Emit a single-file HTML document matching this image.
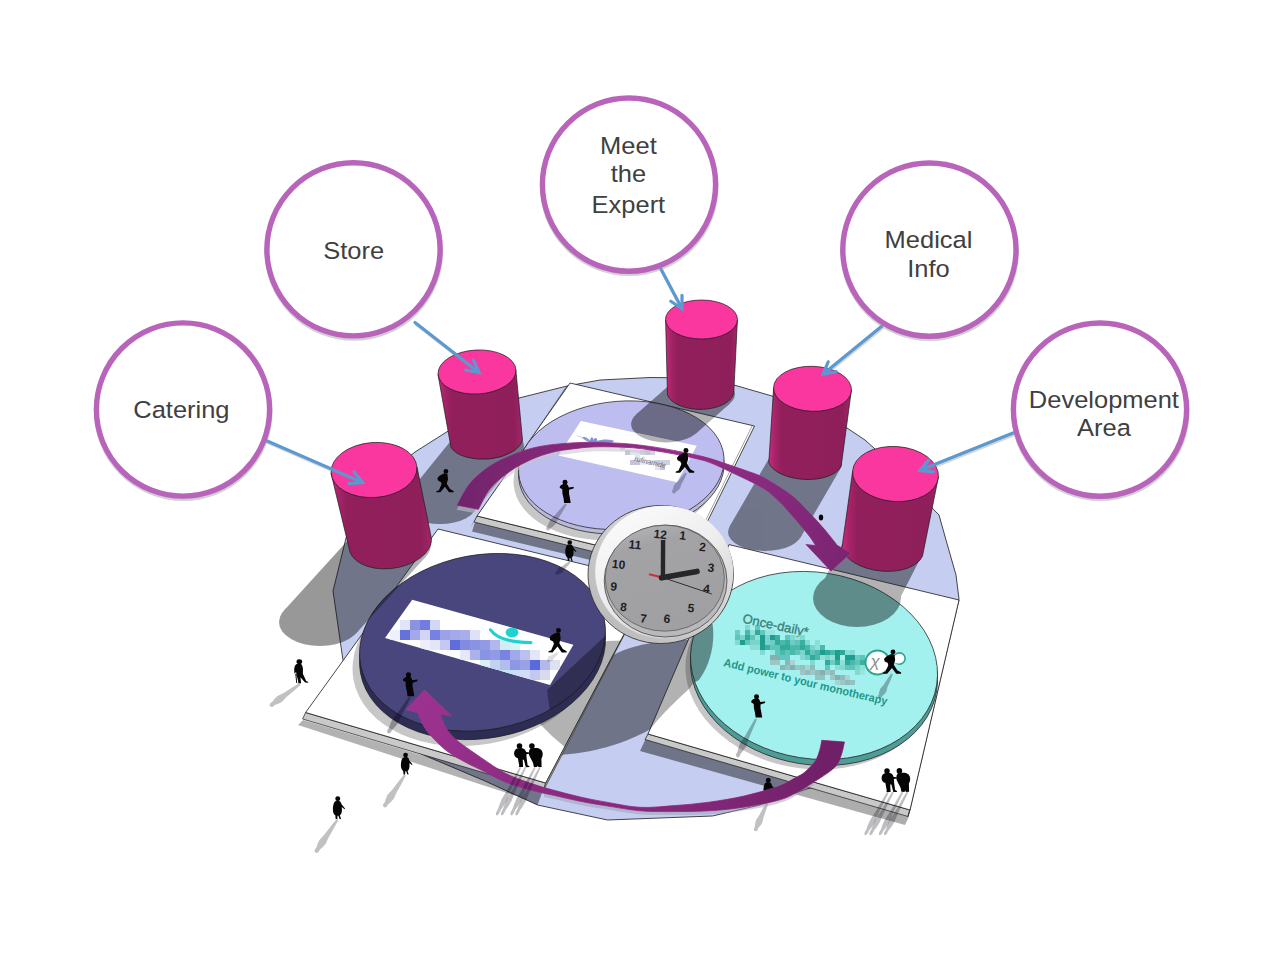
<!DOCTYPE html>
<html lang="en"><head><meta charset="utf-8"><title>Booth layout</title>
<style>
html,body{margin:0;padding:0;background:#fff;}
body{width:1280px;height:960px;overflow:hidden;font-family:"Liberation Sans",Arial,sans-serif;}
svg{display:block;}
svg text{font-family:"Liberation Sans",Arial,sans-serif;}
</style></head><body>
<svg width="1280" height="960" viewBox="0 0 1280 960">
<defs>
<linearGradient id="cylg" x1="0" y1="0" x2="1" y2="0">
<stop offset="0" stop-color="#c82b80"/><stop offset="0.07" stop-color="#a82469"/><stop offset="0.16" stop-color="#911f5c"/><stop offset="0.9" stop-color="#8f1f5b"/><stop offset="1" stop-color="#a3256a"/>
</linearGradient>
<linearGradient id="arrg" x1="0" y1="0" x2="0" y2="1">
<stop offset="0" stop-color="#a0338f"/><stop offset="1" stop-color="#6d1f62"/>
</linearGradient>
<linearGradient id="rimside" x1="1" y1="0" x2="0" y2="1">
<stop offset="0" stop-color="#e4e4e4"/><stop offset="0.5" stop-color="#cfcfcf"/><stop offset="1" stop-color="#b4b4b4"/>
</linearGradient>
<linearGradient id="rimg" x1="0.2" y1="0" x2="0.8" y2="1">
<stop offset="0" stop-color="#fbfbfb"/><stop offset="0.45" stop-color="#eeeeee"/><stop offset="1" stop-color="#cdcdcd"/>
</linearGradient>
<linearGradient id="faceg" x1="0.3" y1="0" x2="0.6" y2="1">
<stop offset="0" stop-color="#b3b3b5"/><stop offset="0.18" stop-color="#a3a3a6"/><stop offset="1" stop-color="#a0a0a3"/>
</linearGradient>
<clipPath id="cFloor"><polygon points="342.5,657.0 333.0,591.0 346.0,538.0 380.0,480.0 415.0,452.0 445.0,433.0 480.0,412.0 519.0,398.0 567.0,386.0 600.0,380.0 650.0,377.5 700.0,378.0 734.0,385.0 772.0,396.0 812.0,410.0 847.0,428.0 865.0,440.0 875.0,449.0 905.0,480.0 939.0,515.0 946.0,540.0 956.0,575.0 959.0,599.0 930.0,700.0 880.0,790.0 810.0,788.0 760.0,805.0 712.5,816.0 607.5,820.0 537.5,805.0 485.0,781.0 420.0,753.5 350.0,700.0"/></clipPath>
<clipPath id="cP1"><polygon points="570.0,383.0 754.5,426.0 685.0,567.0 477.0,516.0"/></clipPath>
<clipPath id="cP2"><polygon points="438.0,529.0 652.0,581.0 545.6,783.0 305.6,712.5"/></clipPath>
<clipPath id="cP3"><polygon points="729.0,544.6 959.0,600.0 910.0,810.0 648.0,734.0"/></clipPath>
<clipPath id="cD1"><ellipse cx="621.3" cy="465.2" rx="103.0" ry="64.0" transform="rotate(-4.7 621.3 465.2)" fill="#000" /></clipPath>
<clipPath id="cD2"><ellipse cx="482.5" cy="642.3" rx="124.0" ry="87.4" transform="rotate(-10.5 482.5 642.3)" fill="#000" /></clipPath>
<clipPath id="cD3"><ellipse cx="814.0" cy="665.5" rx="124.2" ry="93.2" transform="rotate(9.0 814.0 665.5)" fill="#000" /></clipPath>
<filter id="blur1" x="-20%" y="-20%" width="140%" height="140%"><feGaussianBlur stdDeviation="1.2"/></filter>
<filter id="blur2" x="-20%" y="-20%" width="140%" height="140%"><feGaussianBlur stdDeviation="0.7"/></filter>


<g id="walkR"><circle cx="1" cy="-22.4" r="2.55"/><path d="M2.6,-19.6 L3.3,-14 L1.9,-9 L5.5,-3.2 L9.6,-0.9 L9.4,0.4 L4.4,0.4 L0,-5.6 L-4.4,-0.5 L-5,0.4 L-9.7,0.3 L-9.3,-0.9 L-6.6,-1.9 L-3.7,-8.6 L-4.6,-11 L-7.6,-12.5 L-8.3,-15 L-6,-17.6 L-3,-19.2 L-1,-20.3 Z"/></g>
<g id="standW"><circle cx="-2.6" cy="-22.2" r="2.65"/><path d="M-4.6,-20.2 C-7.2,-19.2 -8.6,-17.6 -8.3,-16.2 L-5.6,-14.6 L-5.4,-10 L-4.2,-5 L-3.6,0 L3.4,0 L2.6,-5 L1.6,-10 L1.6,-14 L6.4,-15.5 L6.6,-17.2 L1.4,-16.6 C0.9,-18.6 -0.1,-20.1 -1.6,-20.3 Z"/></g>
<g id="pair"><circle cx="-9" cy="-20.6" r="2.75"/><path d="M-10.5,-18.5 C-13,-18 -14.6,-16 -14.4,-13 C-14.3,-10.5 -12.5,-9 -10.6,-8.5 L-9.2,-0.6 L-9.8,0.4 L-5.4,0.4 L-5.8,-7 L-4.6,-7 L-3.1,-1 L-2.6,0.5 L1.2,0.4 L0.6,-0.8 L-0.9,-1.5 L-1.9,-9 L-2.1,-12.4 L0.8,-12.9 L0.8,-14.3 L-2.4,-14.6 C-3,-17 -4.5,-18.5 -7,-18.7 Z"/><circle cx="3.4" cy="-20.6" r="2.8"/><path d="M2,-18.2 C0.5,-17 0.2,-14.5 0.5,-12 L1.6,-9.4 L4.5,-4 L5.4,0.3 L8.6,0.4 L9,-1 L10,0.4 L13.1,0.3 L12.9,-8 C14.7,-11 14.7,-14.5 12.6,-17 C10.5,-18.9 7,-18.9 5.5,-18.6 Z"/></g>
<g id="standM"><circle cx="0" cy="-22.4" r="2.6"/><path d="M-2,-20.2 C-4.6,-19.6 -5.4,-16 -5,-11 L-4,-9.6 L-3.4,-0.4 L-5,0.3 L-0.4,0.3 L0,-8 L1.4,0.3 L5,0.3 L3.6,-0.6 L4.4,-10 L5.2,-12 C5.4,-17 4.6,-19.8 2,-20.2 Z"/></g>
<g id="coatW"><circle cx="0.3" cy="-22" r="2.7"/><path d="M-1.6,-19.6 C-4,-19 -5,-15 -5,-10 C-5,-6.5 -3.6,-4.6 -2.4,-4 L-2,0 L-0.2,0 L0,-3.6 L1,-3.6 L2.4,0.2 L3.8,0 L2.6,-4 C4.6,-5 5.2,-9 4.6,-13 L7.6,-10.6 L8.2,-11.4 L4.4,-16 C4,-18.4 3,-19.6 1.4,-19.7 Z"/></g>
<g id="caneM"><circle cx="-0.6" cy="-22.2" r="2.6"/><path d="M-2.6,-20 C-5,-19 -5.6,-15 -5,-10 L-3.2,-9 L-1.4,-0.4 L-2.4,0.2 L1,0.3 L0.4,-6 L4.6,-0.6 L7.6,-0.2 L7.2,-1.2 L5.6,-2 L2.6,-9.6 C3,-15 2.6,-18.6 0.6,-20 Z M-4.4,-11 L-3.4,-11 L-2.6,0 L-3.4,0 Z"/></g>
</defs>
<g><g opacity="0.40" fill="#000000"><ellipse cx="390.0" cy="545.0" rx="41.0" ry="24.0"/><ellipse cx="320.0" cy="622.0" rx="41.0" ry="24.0"/><polygon points="426.2,556.3 353.8,533.7 283.8,610.7 356.2,633.3"/><ellipse cx="487.0" cy="446.0" rx="37.0" ry="20.0"/><ellipse cx="440.0" cy="504.0" rx="37.0" ry="20.0"/><polygon points="520.9,454.0 453.1,438.0 406.1,496.0 473.9,512.0"/><ellipse cx="700.0" cy="394.0" rx="35.0" ry="18.5"/><ellipse cx="666.0" cy="424.0" rx="35.0" ry="18.5"/><polygon points="730.0,403.5 670.0,384.5 636.0,414.5 696.0,433.5"/><ellipse cx="805.0" cy="463.0" rx="37.0" ry="19.0"/><ellipse cx="765.0" cy="532.0" rx="37.0" ry="19.0"/><polygon points="840.5,468.4 769.5,457.6 729.5,526.6 800.5,537.4"/><ellipse cx="882.0" cy="550.0" rx="41.0" ry="23.0"/><ellipse cx="857.0" cy="599.0" rx="41.0" ry="23.0"/><polygon points="921.4,556.3 842.6,543.7 817.6,592.7 896.4,605.3"/><ellipse cx="857" cy="598" rx="44" ry="29"/></g></g>
<polygon points="303.0,720.0 543.0,791.0 538.0,803.0 298.0,725.0" fill="#000000" opacity="0.30"/>
<polygon points="646.0,740.0 909.0,816.5 905.0,825.0 641.0,751.0" fill="#000000" opacity="0.32"/>
<polygon points="342.5,657.0 333.0,591.0 346.0,538.0 380.0,480.0 415.0,452.0 445.0,433.0 480.0,412.0 519.0,398.0 567.0,386.0 600.0,380.0 650.0,377.5 700.0,378.0 734.0,385.0 772.0,396.0 812.0,410.0 847.0,428.0 865.0,440.0 875.0,449.0 905.0,480.0 939.0,515.0 946.0,540.0 956.0,575.0 959.0,599.0 930.0,700.0 880.0,790.0 810.0,788.0 760.0,805.0 712.5,816.0 607.5,820.0 537.5,805.0 485.0,781.0 420.0,753.5 350.0,700.0" fill="#c5cef1" stroke="#1b1b1b" stroke-width="0.8" stroke-linejoin="round"/>
<g clip-path="url(#cFloor)"><g opacity="0.43" fill="#000000"><ellipse cx="390.0" cy="545.0" rx="41.0" ry="24.0"/><ellipse cx="320.0" cy="622.0" rx="41.0" ry="24.0"/><polygon points="426.2,556.3 353.8,533.7 283.8,610.7 356.2,633.3"/><ellipse cx="487.0" cy="446.0" rx="37.0" ry="20.0"/><ellipse cx="440.0" cy="504.0" rx="37.0" ry="20.0"/><polygon points="520.9,454.0 453.1,438.0 406.1,496.0 473.9,512.0"/><ellipse cx="700.0" cy="394.0" rx="35.0" ry="18.5"/><ellipse cx="666.0" cy="424.0" rx="35.0" ry="18.5"/><polygon points="730.0,403.5 670.0,384.5 636.0,414.5 696.0,433.5"/><ellipse cx="805.0" cy="463.0" rx="37.0" ry="19.0"/><ellipse cx="765.0" cy="532.0" rx="37.0" ry="19.0"/><polygon points="840.5,468.4 769.5,457.6 729.5,526.6 800.5,537.4"/><ellipse cx="882.0" cy="550.0" rx="41.0" ry="23.0"/><ellipse cx="857.0" cy="599.0" rx="41.0" ry="23.0"/><polygon points="921.4,556.3 842.6,543.7 817.6,592.7 896.4,605.3"/><ellipse cx="857" cy="598" rx="44" ry="29"/><polygon points="477.0,516.0 685.0,567.0 680.0,581.5 472.0,531.5"/><polygon points="570.0,383.0 477.0,516.0 470.0,528.0 565.0,388.0"/><polygon points="305.6,712.5 545.6,783.0 537.6,805.0 297.6,734.5"/><polygon points="648.0,734.0 910.0,810.0 904.0,825.0 640.0,751.0"/><path d="M610,657 C625,648 645,642 680,640 L725,640 L700,700 L647,731 C628,741 600,752 564,754.5 L540,765 Z"/></g></g>
<polygon points="477.0,516.0 685.0,567.0 683.0,574.0 474.0,522.0" fill="#c9c9c9" stroke="#1b1b1b" stroke-width="0.7" stroke-linejoin="round"/><polygon points="570.0,383.0 754.5,426.0 685.0,567.0 477.0,516.0" fill="#ffffff" stroke="#1b1b1b" stroke-width="0.8" stroke-linejoin="round"/>
<line x1="752.3" y1="425.5" x2="683" y2="566.5" stroke="#666" stroke-width="0.6"/>
<g clip-path="url(#cP1)"><g opacity="0.30" fill="#000000"><ellipse cx="390.0" cy="545.0" rx="41.0" ry="24.0"/><ellipse cx="320.0" cy="622.0" rx="41.0" ry="24.0"/><polygon points="426.2,556.3 353.8,533.7 283.8,610.7 356.2,633.3"/><ellipse cx="487.0" cy="446.0" rx="37.0" ry="20.0"/><ellipse cx="440.0" cy="504.0" rx="37.0" ry="20.0"/><polygon points="520.9,454.0 453.1,438.0 406.1,496.0 473.9,512.0"/><ellipse cx="700.0" cy="394.0" rx="35.0" ry="18.5"/><ellipse cx="666.0" cy="424.0" rx="35.0" ry="18.5"/><polygon points="730.0,403.5 670.0,384.5 636.0,414.5 696.0,433.5"/><ellipse cx="805.0" cy="463.0" rx="37.0" ry="19.0"/><ellipse cx="765.0" cy="532.0" rx="37.0" ry="19.0"/><polygon points="840.5,468.4 769.5,457.6 729.5,526.6 800.5,537.4"/><ellipse cx="882.0" cy="550.0" rx="41.0" ry="23.0"/><ellipse cx="857.0" cy="599.0" rx="41.0" ry="23.0"/><polygon points="921.4,556.3 842.6,543.7 817.6,592.7 896.4,605.3"/><ellipse cx="857" cy="598" rx="44" ry="29"/></g></g>
<g clip-path="url(#cP1)"><g opacity="0.22" fill="#000000"><ellipse cx="616.3" cy="476.2" rx="103.0" ry="64.0" transform="rotate(-4.7 616.3 476.2)"/></g></g>
<ellipse cx="621.3" cy="469.7" rx="103.0" ry="64.0" transform="rotate(-4.7 621.3 469.7)" fill="#b9b9da" stroke="#1b1b1b" stroke-width="0.7"/><ellipse cx="621.3" cy="465.2" rx="103.0" ry="64.0" transform="rotate(-4.7 621.3 465.2)" fill="#bdbdef" stroke="#1b1b1b" stroke-width="0.7"/>
<g clip-path="url(#cD1)"><g opacity="0.43" fill="#000000"><ellipse cx="390.0" cy="545.0" rx="41.0" ry="24.0"/><ellipse cx="320.0" cy="622.0" rx="41.0" ry="24.0"/><polygon points="426.2,556.3 353.8,533.7 283.8,610.7 356.2,633.3"/><ellipse cx="487.0" cy="446.0" rx="37.0" ry="20.0"/><ellipse cx="440.0" cy="504.0" rx="37.0" ry="20.0"/><polygon points="520.9,454.0 453.1,438.0 406.1,496.0 473.9,512.0"/><ellipse cx="700.0" cy="394.0" rx="35.0" ry="18.5"/><ellipse cx="666.0" cy="424.0" rx="35.0" ry="18.5"/><polygon points="730.0,403.5 670.0,384.5 636.0,414.5 696.0,433.5"/><ellipse cx="805.0" cy="463.0" rx="37.0" ry="19.0"/><ellipse cx="765.0" cy="532.0" rx="37.0" ry="19.0"/><polygon points="840.5,468.4 769.5,457.6 729.5,526.6 800.5,537.4"/><ellipse cx="882.0" cy="550.0" rx="41.0" ry="23.0"/><ellipse cx="857.0" cy="599.0" rx="41.0" ry="23.0"/><polygon points="921.4,556.3 842.6,543.7 817.6,592.7 896.4,605.3"/><ellipse cx="857" cy="598" rx="44" ry="29"/></g></g>
<polygon points="305.6,712.5 545.6,783.0 543.6,790.5 302.6,719.0" fill="#c9c9c9" stroke="#1b1b1b" stroke-width="0.7" stroke-linejoin="round"/><polygon points="652.0,581.0 545.6,783.0 543.6,790.5 650.5,584.2" fill="#9a9a9a" stroke="#1b1b1b" stroke-width="0.5"/><polygon points="438.0,529.0 652.0,581.0 545.6,783.0 305.6,712.5" fill="#ffffff" stroke="#1b1b1b" stroke-width="0.8" stroke-linejoin="round"/>
<g clip-path="url(#cP2)"><g opacity="0.30" fill="#000000"><ellipse cx="390.0" cy="545.0" rx="41.0" ry="24.0"/><ellipse cx="320.0" cy="622.0" rx="41.0" ry="24.0"/><polygon points="426.2,556.3 353.8,533.7 283.8,610.7 356.2,633.3"/><ellipse cx="487.0" cy="446.0" rx="37.0" ry="20.0"/><ellipse cx="440.0" cy="504.0" rx="37.0" ry="20.0"/><polygon points="520.9,454.0 453.1,438.0 406.1,496.0 473.9,512.0"/><ellipse cx="700.0" cy="394.0" rx="35.0" ry="18.5"/><ellipse cx="666.0" cy="424.0" rx="35.0" ry="18.5"/><polygon points="730.0,403.5 670.0,384.5 636.0,414.5 696.0,433.5"/><ellipse cx="805.0" cy="463.0" rx="37.0" ry="19.0"/><ellipse cx="765.0" cy="532.0" rx="37.0" ry="19.0"/><polygon points="840.5,468.4 769.5,457.6 729.5,526.6 800.5,537.4"/><ellipse cx="882.0" cy="550.0" rx="41.0" ry="23.0"/><ellipse cx="857.0" cy="599.0" rx="41.0" ry="23.0"/><polygon points="921.4,556.3 842.6,543.7 817.6,592.7 896.4,605.3"/><ellipse cx="857" cy="598" rx="44" ry="29"/><polygon points="607,641 585,662 560,690 535,715 540,724 552,736 567,749 640,640"/></g></g>
<g clip-path="url(#cP2)"><g opacity="0.22" fill="#000000"><ellipse cx="475.5" cy="657.3" rx="124.0" ry="87.4" transform="rotate(-10.5 475.5 657.3)"/></g></g>
<ellipse cx="482.5" cy="650.8" rx="124.0" ry="87.4" transform="rotate(-10.5 482.5 650.8)" fill="#2d2c55" stroke="#1b1b1b" stroke-width="0.7"/><ellipse cx="482.5" cy="642.3" rx="124.0" ry="87.4" transform="rotate(-10.5 482.5 642.3)" fill="#48467c" stroke="#1b1b1b" stroke-width="0.7"/>
<g clip-path="url(#cD2)"><g opacity="0.33" fill="#000000"><ellipse cx="390.0" cy="545.0" rx="41.0" ry="24.0"/><ellipse cx="320.0" cy="622.0" rx="41.0" ry="24.0"/><polygon points="426.2,556.3 353.8,533.7 283.8,610.7 356.2,633.3"/><ellipse cx="487.0" cy="446.0" rx="37.0" ry="20.0"/><ellipse cx="440.0" cy="504.0" rx="37.0" ry="20.0"/><polygon points="520.9,454.0 453.1,438.0 406.1,496.0 473.9,512.0"/><ellipse cx="700.0" cy="394.0" rx="35.0" ry="18.5"/><ellipse cx="666.0" cy="424.0" rx="35.0" ry="18.5"/><polygon points="730.0,403.5 670.0,384.5 636.0,414.5 696.0,433.5"/><ellipse cx="805.0" cy="463.0" rx="37.0" ry="19.0"/><ellipse cx="765.0" cy="532.0" rx="37.0" ry="19.0"/><polygon points="840.5,468.4 769.5,457.6 729.5,526.6 800.5,537.4"/><ellipse cx="882.0" cy="550.0" rx="41.0" ry="23.0"/><ellipse cx="857.0" cy="599.0" rx="41.0" ry="23.0"/><polygon points="921.4,556.3 842.6,543.7 817.6,592.7 896.4,605.3"/><ellipse cx="857" cy="598" rx="44" ry="29"/><polygon points="603,638 547,690 550,712 543,740 640,745 640,600"/></g></g>
<polygon points="648.0,734.0 910.0,810.0 908.0,816.5 645.0,739.5" fill="#c9c9c9" stroke="#1b1b1b" stroke-width="0.7" stroke-linejoin="round"/><polygon points="959.0,600.0 910.0,810.0 908.0,816.5 957.5,602.8" fill="#9a9a9a" stroke="#1b1b1b" stroke-width="0.5"/><polygon points="729.0,544.6 959.0,600.0 910.0,810.0 648.0,734.0" fill="#ffffff" stroke="#1b1b1b" stroke-width="0.8" stroke-linejoin="round"/>
<g clip-path="url(#cP3)"><g opacity="0.30" fill="#000000"><ellipse cx="390.0" cy="545.0" rx="41.0" ry="24.0"/><ellipse cx="320.0" cy="622.0" rx="41.0" ry="24.0"/><polygon points="426.2,556.3 353.8,533.7 283.8,610.7 356.2,633.3"/><ellipse cx="487.0" cy="446.0" rx="37.0" ry="20.0"/><ellipse cx="440.0" cy="504.0" rx="37.0" ry="20.0"/><polygon points="520.9,454.0 453.1,438.0 406.1,496.0 473.9,512.0"/><ellipse cx="700.0" cy="394.0" rx="35.0" ry="18.5"/><ellipse cx="666.0" cy="424.0" rx="35.0" ry="18.5"/><polygon points="730.0,403.5 670.0,384.5 636.0,414.5 696.0,433.5"/><ellipse cx="805.0" cy="463.0" rx="37.0" ry="19.0"/><ellipse cx="765.0" cy="532.0" rx="37.0" ry="19.0"/><polygon points="840.5,468.4 769.5,457.6 729.5,526.6 800.5,537.4"/><ellipse cx="882.0" cy="550.0" rx="41.0" ry="23.0"/><ellipse cx="857.0" cy="599.0" rx="41.0" ry="23.0"/><polygon points="921.4,556.3 842.6,543.7 817.6,592.7 896.4,605.3"/><ellipse cx="857" cy="598" rx="44" ry="29"/><path d="M645,736 C655,722 668,708 690,688 L702,670 L740,600 L700,555 L630,740 Z"/></g></g>
<g clip-path="url(#cP3)"><g opacity="0.22" fill="#000000"><ellipse cx="809.0" cy="675.5" rx="124.2" ry="93.2" transform="rotate(9.0 809.0 675.5)"/></g></g>
<ellipse cx="814.0" cy="671.5" rx="124.2" ry="93.2" transform="rotate(9.0 814.0 671.5)" fill="#4f9c97" stroke="#1b1b1b" stroke-width="0.7"/><ellipse cx="814.0" cy="665.5" rx="124.2" ry="93.2" transform="rotate(9.0 814.0 665.5)" fill="#a3f1ee" stroke="#1b1b1b" stroke-width="0.7"/>
<g clip-path="url(#cD3)"><g opacity="0.42" fill="#000000"><ellipse cx="390.0" cy="545.0" rx="41.0" ry="24.0"/><ellipse cx="320.0" cy="622.0" rx="41.0" ry="24.0"/><polygon points="426.2,556.3 353.8,533.7 283.8,610.7 356.2,633.3"/><ellipse cx="487.0" cy="446.0" rx="37.0" ry="20.0"/><ellipse cx="440.0" cy="504.0" rx="37.0" ry="20.0"/><polygon points="520.9,454.0 453.1,438.0 406.1,496.0 473.9,512.0"/><ellipse cx="700.0" cy="394.0" rx="35.0" ry="18.5"/><ellipse cx="666.0" cy="424.0" rx="35.0" ry="18.5"/><polygon points="730.0,403.5 670.0,384.5 636.0,414.5 696.0,433.5"/><ellipse cx="805.0" cy="463.0" rx="37.0" ry="19.0"/><ellipse cx="765.0" cy="532.0" rx="37.0" ry="19.0"/><polygon points="840.5,468.4 769.5,457.6 729.5,526.6 800.5,537.4"/><ellipse cx="882.0" cy="550.0" rx="41.0" ry="23.0"/><ellipse cx="857.0" cy="599.0" rx="41.0" ry="23.0"/><polygon points="921.4,556.3 842.6,543.7 817.6,592.7 896.4,605.3"/><ellipse cx="857" cy="598" rx="44" ry="29"/><path d="M686,640 L700,628 L712.5,623.5 C715,640 712,662 699,680 L690,685 L670,660 Z"/></g></g>
<polygon points="580.8,421 696.8,445.7 677,482.3 558.3,455.5" fill="#ffffff"/><path d="M582,437.5 C586,436 588,439 590,440.5 C591,436 593,436.5 593.5,440 C595,437 597,437.5 597.5,441 C602,439 608,439 613.5,440.5 C614.5,442 612,443 608,442.8 C602,443.5 596,443.4 591,442.6 C588,442 585,440.5 582,437.5 Z" fill="#7d90d8"/><path d="M577,435.5 L590,441" stroke="#a9b6e6" stroke-width="0.6"/><rect x="620" y="445" width="5" height="5" fill="#d2d3e2"/><rect x="625" y="450" width="5" height="5" fill="#c3c5da"/><rect x="630" y="450" width="5" height="5" fill="#e4e4ee"/><rect x="630" y="460" width="5" height="5" fill="#c3c5da"/><rect x="635" y="450" width="5" height="5" fill="#e4e4ee"/><rect x="635" y="455" width="5" height="5" fill="#e4e4ee"/><rect x="635" y="460" width="5" height="5" fill="#c3c5da"/><rect x="640" y="450" width="5" height="5" fill="#d2d3e2"/><rect x="640" y="460" width="5" height="5" fill="#ececf3"/><rect x="645" y="450" width="5" height="5" fill="#c3c5da"/><rect x="645" y="460" width="5" height="5" fill="#ececf3"/><rect x="650" y="450" width="5" height="5" fill="#d2d3e2"/><rect x="650" y="460" width="5" height="5" fill="#e4e4ee"/><rect x="655" y="460" width="5" height="5" fill="#cfd0e0"/><rect x="655" y="465" width="5" height="5" fill="#e4e4ee"/><rect x="660" y="460" width="5" height="5" fill="#cfd0e0"/><rect x="660" y="465" width="5" height="5" fill="#c3c5da"/><rect x="665" y="460" width="5" height="5" fill="#cfd0e0"/><text x="634" y="461" font-size="7.5" font-style="italic" fill="#6e6e78" transform="rotate(13 634 461)" textLength="32" lengthAdjust="spacingAndGlyphs">rufinamide</text><polygon points="412.2,599.7 573.4,644.7 550,685 385,638" fill="#ffffff"/><clipPath id="cBan2"><polygon points="412.2,599.7 573.4,644.7 550,685 385,638"/></clipPath><g clip-path="url(#cBan2)"><rect x="400" y="620" width="10" height="10" fill="#e2e4f7"/><rect x="410" y="620" width="10" height="10" fill="#8a92e2"/><rect x="420" y="620" width="10" height="10" fill="#727be0"/><rect x="430" y="620" width="10" height="10" fill="#d3d6f5"/><rect x="390" y="630" width="10" height="10" fill="#eef0fb"/><rect x="400" y="630" width="10" height="10" fill="#6672dc"/><rect x="410" y="630" width="10" height="10" fill="#a2a8e8"/><rect x="420" y="630" width="10" height="10" fill="#d2d5f5"/><rect x="430" y="630" width="10" height="10" fill="#7681e0"/><rect x="440" y="630" width="10" height="10" fill="#9ba2e7"/><rect x="450" y="630" width="10" height="10" fill="#a3a9e9"/><rect x="460" y="630" width="10" height="10" fill="#a9aeea"/><rect x="470" y="630" width="10" height="10" fill="#dfe1f7"/><rect x="420" y="640" width="10" height="10" fill="#eceefa"/><rect x="430" y="640" width="10" height="10" fill="#e3e5f8"/><rect x="440" y="640" width="10" height="10" fill="#c5c9f1"/><rect x="450" y="640" width="10" height="10" fill="#5f6ddb"/><rect x="460" y="640" width="10" height="10" fill="#828be2"/><rect x="470" y="640" width="10" height="10" fill="#8a93e3"/><rect x="480" y="640" width="10" height="10" fill="#929ae5"/><rect x="490" y="640" width="10" height="10" fill="#b3b8ec"/><rect x="500" y="640" width="10" height="10" fill="#cfeef3"/><rect x="510" y="640" width="10" height="10" fill="#d8f3f5"/><rect x="460" y="650" width="10" height="10" fill="#e6e8f9"/><rect x="470" y="650" width="10" height="10" fill="#aab1eb"/><rect x="480" y="650" width="10" height="10" fill="#8992e3"/><rect x="490" y="650" width="10" height="10" fill="#929ae5"/><rect x="500" y="650" width="10" height="10" fill="#7a83e1"/><rect x="510" y="650" width="10" height="10" fill="#a2a9e9"/><rect x="520" y="650" width="10" height="10" fill="#bac1ef"/><rect x="530" y="650" width="10" height="10" fill="#e3e6f8"/><rect x="480" y="660" width="10" height="10" fill="#d9f1f6"/><rect x="490" y="660" width="10" height="10" fill="#c2d2f1"/><rect x="500" y="660" width="10" height="10" fill="#b2bdee"/><rect x="510" y="660" width="10" height="10" fill="#8d97e4"/><rect x="520" y="660" width="10" height="10" fill="#99a1e6"/><rect x="530" y="660" width="10" height="10" fill="#5a69dc"/><rect x="540" y="660" width="10" height="10" fill="#b2b9e9"/><rect x="550" y="660" width="10" height="10" fill="#dfe1f2"/><rect x="500" y="670" width="10" height="10" fill="#bfe9f0"/><rect x="510" y="670" width="10" height="10" fill="#c9ddf4"/><rect x="520" y="670" width="10" height="10" fill="#d3dcf5"/><rect x="530" y="670" width="10" height="10" fill="#c2c9f0"/><rect x="540" y="670" width="10" height="10" fill="#d8dbf0"/></g><ellipse cx="512" cy="632.5" rx="6.4" ry="4.8" fill="#1fd2ce"/><path d="M490.5,629.8 C496,637.5 510,642.5 531,642.6" fill="none"  stroke="#1fd2ce" stroke-width="3.1" stroke-linecap="round"/><text x="742" y="622.6" font-size="13" fill="#3a827c" stroke="#3a827c" stroke-width="0.35" transform="rotate(12 742 622.6)" textLength="67" lengthAdjust="spacingAndGlyphs">Once-daily*</text><text x="723" y="666" font-size="11.4" font-weight="bold" fill="#24968a" transform="rotate(13.5 723 666)" textLength="168" lengthAdjust="spacingAndGlyphs">Add power to your monotherapy</text><rect x="735" y="630" width="5" height="5" fill="#6acabf" opacity="0.95"/><rect x="735" y="635" width="5" height="5" fill="#5cc2b6" opacity="0.95"/><rect x="735" y="640" width="5" height="5" fill="#6acabf" opacity="0.60"/><rect x="740" y="635" width="5" height="5" fill="#78d2c8" opacity="0.95"/><rect x="740" y="640" width="5" height="5" fill="#17998a" opacity="0.95"/><rect x="745" y="625" width="5" height="5" fill="#6acabf" opacity="0.60"/><rect x="745" y="630" width="5" height="5" fill="#46b4a7" opacity="0.95"/><rect x="745" y="635" width="5" height="5" fill="#2aa596" opacity="0.95"/><rect x="745" y="640" width="5" height="5" fill="#5cc2b6" opacity="0.95"/><rect x="750" y="630" width="5" height="5" fill="#8edfd6" opacity="0.95"/><rect x="750" y="635" width="5" height="5" fill="#5cc2b6" opacity="0.95"/><rect x="750" y="640" width="5" height="5" fill="#78d2c8" opacity="0.95"/><rect x="750" y="645" width="5" height="5" fill="#78d2c8" opacity="0.60"/><rect x="755" y="625" width="5" height="5" fill="#35ab9d" opacity="0.60"/><rect x="755" y="630" width="5" height="5" fill="#2aa596" opacity="0.95"/><rect x="755" y="635" width="5" height="5" fill="#8edfd6" opacity="0.95"/><rect x="755" y="640" width="5" height="5" fill="#78d2c8" opacity="0.95"/><rect x="755" y="645" width="5" height="5" fill="#78d2c8" opacity="0.60"/><rect x="760" y="630" width="5" height="5" fill="#35ab9d" opacity="0.60"/><rect x="760" y="635" width="5" height="5" fill="#17998a" opacity="0.95"/><rect x="760" y="640" width="5" height="5" fill="#17998a" opacity="0.95"/><rect x="760" y="645" width="5" height="5" fill="#17998a" opacity="0.95"/><rect x="760" y="650" width="5" height="5" fill="#6acabf" opacity="0.60"/><rect x="765" y="630" width="5" height="5" fill="#8edfd6" opacity="0.60"/><rect x="765" y="635" width="5" height="5" fill="#78d2c8" opacity="0.95"/><rect x="765" y="640" width="5" height="5" fill="#78d2c8" opacity="0.95"/><rect x="765" y="645" width="5" height="5" fill="#35ab9d" opacity="0.95"/><rect x="770" y="630" width="5" height="5" fill="#8edfd6" opacity="0.60"/><rect x="770" y="635" width="5" height="5" fill="#17998a" opacity="0.95"/><rect x="770" y="640" width="5" height="5" fill="#6acabf" opacity="0.95"/><rect x="770" y="645" width="5" height="5" fill="#5cc2b6" opacity="0.95"/><rect x="770" y="650" width="5" height="5" fill="#8edfd6" opacity="0.60"/><rect x="775" y="635" width="5" height="5" fill="#35ab9d" opacity="0.95"/><rect x="775" y="640" width="5" height="5" fill="#2aa596" opacity="0.95"/><rect x="775" y="645" width="5" height="5" fill="#5cc2b6" opacity="0.95"/><rect x="775" y="650" width="5" height="5" fill="#35ab9d" opacity="0.60"/><rect x="780" y="640" width="5" height="5" fill="#46b4a7" opacity="0.95"/><rect x="780" y="645" width="5" height="5" fill="#2aa596" opacity="0.95"/><rect x="780" y="650" width="5" height="5" fill="#46b4a7" opacity="0.95"/><rect x="780" y="655" width="5" height="5" fill="#35ab9d" opacity="0.60"/><rect x="785" y="635" width="5" height="5" fill="#35ab9d" opacity="0.60"/><rect x="785" y="640" width="5" height="5" fill="#35ab9d" opacity="0.95"/><rect x="785" y="645" width="5" height="5" fill="#2aa596" opacity="0.95"/><rect x="785" y="650" width="5" height="5" fill="#5cc2b6" opacity="0.95"/><rect x="785" y="655" width="5" height="5" fill="#35ab9d" opacity="0.60"/><rect x="790" y="635" width="5" height="5" fill="#6acabf" opacity="0.60"/><rect x="790" y="640" width="5" height="5" fill="#6acabf" opacity="0.95"/><rect x="790" y="645" width="5" height="5" fill="#46b4a7" opacity="0.95"/><rect x="790" y="650" width="5" height="5" fill="#46b4a7" opacity="0.95"/><rect x="795" y="635" width="5" height="5" fill="#8edfd6" opacity="0.60"/><rect x="795" y="640" width="5" height="5" fill="#5cc2b6" opacity="0.95"/><rect x="795" y="645" width="5" height="5" fill="#46b4a7" opacity="0.95"/><rect x="795" y="650" width="5" height="5" fill="#5cc2b6" opacity="0.95"/><rect x="800" y="635" width="5" height="5" fill="#6acabf" opacity="0.60"/><rect x="800" y="640" width="5" height="5" fill="#35ab9d" opacity="0.95"/><rect x="800" y="645" width="5" height="5" fill="#2aa596" opacity="0.95"/><rect x="800" y="650" width="5" height="5" fill="#78d2c8" opacity="0.95"/><rect x="800" y="655" width="5" height="5" fill="#6acabf" opacity="0.60"/><rect x="805" y="640" width="5" height="5" fill="#6acabf" opacity="0.60"/><rect x="805" y="645" width="5" height="5" fill="#46b4a7" opacity="0.95"/><rect x="805" y="650" width="5" height="5" fill="#2aa596" opacity="0.95"/><rect x="805" y="655" width="5" height="5" fill="#6acabf" opacity="0.95"/><rect x="810" y="645" width="5" height="5" fill="#78d2c8" opacity="0.95"/><rect x="810" y="650" width="5" height="5" fill="#5cc2b6" opacity="0.95"/><rect x="810" y="655" width="5" height="5" fill="#2aa596" opacity="0.95"/><rect x="810" y="660" width="5" height="5" fill="#6acabf" opacity="0.60"/><rect x="815" y="640" width="5" height="5" fill="#78d2c8" opacity="0.60"/><rect x="815" y="645" width="5" height="5" fill="#8edfd6" opacity="0.95"/><rect x="815" y="650" width="5" height="5" fill="#46b4a7" opacity="0.95"/><rect x="815" y="655" width="5" height="5" fill="#46b4a7" opacity="0.95"/><rect x="820" y="645" width="5" height="5" fill="#46b4a7" opacity="0.95"/><rect x="820" y="650" width="5" height="5" fill="#17998a" opacity="0.95"/><rect x="820" y="655" width="5" height="5" fill="#8edfd6" opacity="0.95"/><rect x="825" y="650" width="5" height="5" fill="#2aa596" opacity="0.95"/><rect x="825" y="655" width="5" height="5" fill="#78d2c8" opacity="0.95"/><rect x="825" y="660" width="5" height="5" fill="#2aa596" opacity="0.95"/><rect x="825" y="665" width="5" height="5" fill="#35ab9d" opacity="0.60"/><rect x="830" y="650" width="5" height="5" fill="#46b4a7" opacity="0.95"/><rect x="830" y="655" width="5" height="5" fill="#8edfd6" opacity="0.95"/><rect x="830" y="660" width="5" height="5" fill="#6acabf" opacity="0.95"/><rect x="835" y="650" width="5" height="5" fill="#17998a" opacity="0.95"/><rect x="835" y="655" width="5" height="5" fill="#17998a" opacity="0.95"/><rect x="835" y="660" width="5" height="5" fill="#35ab9d" opacity="0.95"/><rect x="835" y="665" width="5" height="5" fill="#78d2c8" opacity="0.60"/><rect x="840" y="650" width="5" height="5" fill="#2aa596" opacity="0.95"/><rect x="840" y="660" width="5" height="5" fill="#8edfd6" opacity="0.95"/><rect x="840" y="665" width="5" height="5" fill="#6acabf" opacity="0.60"/><rect x="845" y="650" width="5" height="5" fill="#78d2c8" opacity="0.60"/><rect x="845" y="655" width="5" height="5" fill="#17998a" opacity="0.95"/><rect x="845" y="660" width="5" height="5" fill="#2aa596" opacity="0.95"/><rect x="845" y="665" width="5" height="5" fill="#5cc2b6" opacity="0.95"/><rect x="850" y="650" width="5" height="5" fill="#6acabf" opacity="0.60"/><rect x="850" y="655" width="5" height="5" fill="#17998a" opacity="0.95"/><rect x="850" y="660" width="5" height="5" fill="#46b4a7" opacity="0.95"/><rect x="850" y="665" width="5" height="5" fill="#5cc2b6" opacity="0.95"/><rect x="855" y="655" width="5" height="5" fill="#6acabf" opacity="0.95"/><rect x="855" y="660" width="5" height="5" fill="#5cc2b6" opacity="0.95"/><rect x="855" y="665" width="5" height="5" fill="#78d2c8" opacity="0.95"/><rect x="855" y="670" width="5" height="5" fill="#6acabf" opacity="0.60"/><rect x="860" y="655" width="5" height="5" fill="#5cc2b6" opacity="0.95"/><rect x="860" y="660" width="5" height="5" fill="#35ab9d" opacity="0.95"/><rect x="860" y="665" width="5" height="5" fill="#8edfd6" opacity="0.95"/><rect x="860" y="670" width="5" height="5" fill="#8edfd6" opacity="0.60"/><rect x="770" y="655" width="5" height="5" fill="#7fa5a6" opacity="0.85"/><rect x="770" y="660" width="5" height="5" fill="#9bc0c0" opacity="0.85"/><rect x="775" y="655" width="5" height="5" fill="#7fa5a6" opacity="0.85"/><rect x="775" y="660" width="5" height="5" fill="#9bc0c0" opacity="0.85"/><rect x="780" y="665" width="5" height="5" fill="#86abac" opacity="0.85"/><rect x="785" y="660" width="5" height="5" fill="#86abac" opacity="0.85"/><rect x="785" y="665" width="5" height="5" fill="#93b9b9" opacity="0.85"/><rect x="790" y="660" width="5" height="5" fill="#a8cfce" opacity="0.85"/><rect x="790" y="665" width="5" height="5" fill="#7fa5a6" opacity="0.85"/><rect x="795" y="665" width="5" height="5" fill="#9bc0c0" opacity="0.85"/><rect x="800" y="665" width="5" height="5" fill="#93b9b9" opacity="0.85"/><rect x="800" y="670" width="5" height="5" fill="#9bc0c0" opacity="0.85"/><rect x="805" y="665" width="5" height="5" fill="#a8cfce" opacity="0.85"/><rect x="805" y="670" width="5" height="5" fill="#8fb3b3" opacity="0.85"/><rect x="810" y="665" width="5" height="5" fill="#8fb3b3" opacity="0.85"/><rect x="810" y="670" width="5" height="5" fill="#9bc0c0" opacity="0.85"/><rect x="815" y="670" width="5" height="5" fill="#8fb3b3" opacity="0.85"/><rect x="815" y="675" width="5" height="5" fill="#93b9b9" opacity="0.85"/><rect x="820" y="670" width="5" height="5" fill="#7fa5a6" opacity="0.85"/><rect x="820" y="675" width="5" height="5" fill="#93b9b9" opacity="0.85"/><rect x="825" y="670" width="5" height="5" fill="#9bc0c0" opacity="0.85"/><rect x="830" y="670" width="5" height="5" fill="#8fb3b3" opacity="0.85"/><rect x="830" y="675" width="5" height="5" fill="#9bc0c0" opacity="0.85"/><rect x="835" y="675" width="5" height="5" fill="#7fa5a6" opacity="0.85"/><rect x="835" y="680" width="5" height="5" fill="#a8cfce" opacity="0.85"/><rect x="840" y="675" width="5" height="5" fill="#8fb3b3" opacity="0.85"/><rect x="840" y="680" width="5" height="5" fill="#9bc0c0" opacity="0.85"/><rect x="845" y="675" width="5" height="5" fill="#a8cfce" opacity="0.85"/><rect x="845" y="680" width="5" height="5" fill="#8fb3b3" opacity="0.85"/><rect x="850" y="680" width="5" height="5" fill="#93b9b9" opacity="0.85"/><circle cx="899.5" cy="658.5" r="5.6" fill="#ffffff" stroke="#2aa393" stroke-width="1.6"/><circle cx="877.5" cy="662.5" r="12" fill="#ffffff" stroke="#2aa393" stroke-width="1.9"/><circle cx="898" cy="659" r="4.6" fill="#ffffff"/><text x="870.5" y="667" font-size="17" font-style="italic" font-family="Liberation Serif, serif" fill="#8c8c8c">χ</text>
<clipPath id="cBan1"><polygon points="580.8,421 696.8,445.7 677,482.3 558.3,455.5"/></clipPath><g clip-path="url(#cBan1)"><g opacity="0.30" fill="#000"><ellipse cx="390.0" cy="545.0" rx="41.0" ry="24.0"/><ellipse cx="320.0" cy="622.0" rx="41.0" ry="24.0"/><polygon points="426.2,556.3 353.8,533.7 283.8,610.7 356.2,633.3"/><ellipse cx="487.0" cy="446.0" rx="37.0" ry="20.0"/><ellipse cx="440.0" cy="504.0" rx="37.0" ry="20.0"/><polygon points="520.9,454.0 453.1,438.0 406.1,496.0 473.9,512.0"/><ellipse cx="700.0" cy="394.0" rx="35.0" ry="18.5"/><ellipse cx="666.0" cy="424.0" rx="35.0" ry="18.5"/><polygon points="730.0,403.5 670.0,384.5 636.0,414.5 696.0,433.5"/><ellipse cx="805.0" cy="463.0" rx="37.0" ry="19.0"/><ellipse cx="765.0" cy="532.0" rx="37.0" ry="19.0"/><polygon points="840.5,468.4 769.5,457.6 729.5,526.6 800.5,537.4"/><ellipse cx="882.0" cy="550.0" rx="41.0" ry="23.0"/><ellipse cx="857.0" cy="599.0" rx="41.0" ry="23.0"/><polygon points="921.4,556.3 842.6,543.7 817.6,592.7 896.4,605.3"/><ellipse cx="857" cy="598" rx="44" ry="29"/></g></g>
<path d="M331.0,473.0 L350.0,552.0 A41.0,25.0 -8.0 0 0 430.6,534.4 L417.0,467.0 Z" fill="url(#cylg)" stroke="#1b1b1b" stroke-width="0.7" stroke-linejoin="round"/><ellipse cx="374.0" cy="470.0" rx="43.0" ry="27.5" transform="rotate(-4.0 374.0 470.0)" fill="#fa369f" stroke="#1b1b1b" stroke-width="0.7"/><path d="M438.0,374.5 L451.0,447.5 A37.0,20.0 -4.0 0 0 522.5,440.0 L515.8,369.5 Z" fill="url(#cylg)" stroke="#1b1b1b" stroke-width="0.7" stroke-linejoin="round"/><ellipse cx="477.0" cy="372.0" rx="39.0" ry="22.0" transform="rotate(-3.0 477.0 372.0)" fill="#fa369f" stroke="#1b1b1b" stroke-width="0.7"/><path d="M665.6,320.0 L667.5,395.0 A33.5,18.0 0.0 0 0 733.8,392.0 L737.4,320.0 Z" fill="url(#cylg)" stroke="#1b1b1b" stroke-width="0.7" stroke-linejoin="round"/><ellipse cx="701.5" cy="319.5" rx="36.0" ry="19.5" transform="rotate(0.0 701.5 319.5)" fill="#fa369f" stroke="#1b1b1b" stroke-width="0.7"/><path d="M773.6,388.0 L768.8,462.5 A37.0,19.0 3.0 0 0 841.2,466.0 L851.4,390.0 Z" fill="url(#cylg)" stroke="#1b1b1b" stroke-width="0.7" stroke-linejoin="round"/><ellipse cx="812.5" cy="388.8" rx="39.0" ry="22.5" transform="rotate(2.0 812.5 388.8)" fill="#fa369f" stroke="#1b1b1b" stroke-width="0.7"/><path d="M852.6,471.5 L842.0,547.5 A41.0,23.0 6.0 0 0 922.5,556.0 L938.4,477.0 Z" fill="url(#cylg)" stroke="#1b1b1b" stroke-width="0.7" stroke-linejoin="round"/><ellipse cx="895.5" cy="474.0" rx="43.0" ry="27.5" transform="rotate(4.0 895.5 474.0)" fill="#fa369f" stroke="#1b1b1b" stroke-width="0.7"/>
<path d="M767.1,800.6 L763.1,807.8 L759.4,815.1 L756.0,820.0 L755.1,823.9 L754.8,826.7 L753.7,829.0 L754.2,830.7 L755.8,831.3 L757.3,830.6 L758.3,828.1 L760.1,826.1 L762.3,822.8 L763.6,816.9 L766.4,809.2 L768.9,801.4 Z" fill="#000010" opacity="0.24" filter="url(#blur2)"/><use href="#coatW" transform="translate(768.0 800.0) scale(0.900 0.900)" fill="#050505"/><ellipse cx="821" cy="517.5" rx="2.2" ry="3" fill="#050505"/>
<defs>
<clipPath id="cTopBand"><rect x="450" y="430" width="200" height="100"/></clipPath>
<clipPath id="cBotBand"><rect x="545" y="770" width="270" height="60"/></clipPath>
<linearGradient id="arrT" gradientUnits="userSpaceOnUse" x1="456" y1="500" x2="850" y2="560">
<stop offset="0" stop-color="#70236a"/><stop offset="0.15" stop-color="#7f2775"/><stop offset="0.5" stop-color="#932f89"/><stop offset="0.8" stop-color="#86297c"/><stop offset="1" stop-color="#7a2571"/>
</linearGradient>
<linearGradient id="arrB" gradientUnits="userSpaceOnUse" x1="420" y1="700" x2="845" y2="760">
<stop offset="0" stop-color="#9c3290"/><stop offset="0.3" stop-color="#8a2b7f"/><stop offset="0.7" stop-color="#822778"/><stop offset="1" stop-color="#6e1f65"/>
</linearGradient>
</defs>
<path d="M457.1,505.2 C459.3,501.5 464.7,489.5 470.3,482.9 C475.9,476.3 483.8,470.2 490.6,465.6 C497.4,461.0 504.1,458.4 510.9,455.5 C517.7,452.6 524.5,450.2 531.2,448.4 C538.0,446.6 544.8,445.6 551.6,444.7 C558.4,443.8 565.1,443.3 571.9,442.9 C578.7,442.5 585.4,442.3 592.2,442.3 C599.0,442.3 605.7,442.6 612.5,442.9 C619.3,443.2 626.0,443.6 632.8,444.3 C639.6,445.0 646.3,445.9 653.1,446.9 C659.9,447.9 666.6,449.1 673.4,450.4 C680.2,451.7 687.6,453.1 693.8,454.5 C699.9,455.9 703.8,456.7 710.0,458.5 C716.2,460.3 725.2,463.5 731.0,465.5 C736.8,467.5 739.8,468.4 745.0,470.3 C750.2,472.2 757.0,474.2 762.5,476.9 C768.0,479.6 772.8,482.9 778.0,486.2 C783.2,489.6 788.5,492.8 793.8,497.2 C799.0,501.6 804.2,507.3 809.4,512.8 C814.6,518.3 820.3,524.5 825.0,530.0 C829.7,535.5 835.4,543.0 837.5,545.6 L850.5,553.0 L831.0,571.0 L806.0,544.5 L815.6,545.6 C814.6,544.0 813.0,540.9 809.4,536.2 C805.8,531.6 799.0,523.5 793.8,517.5 C788.5,511.5 783.2,505.2 778.0,500.3 C772.8,495.4 770.3,492.5 762.5,487.8 C754.7,483.1 740.0,476.4 731.2,472.2 C722.5,468.0 716.2,465.0 710.0,462.6 C703.8,460.2 699.9,459.6 693.8,458.1 C687.6,456.6 680.2,455.1 673.4,453.8 C666.6,452.5 659.9,451.4 653.1,450.4 C646.3,449.4 639.6,448.3 632.8,447.8 C626.0,447.2 619.3,447.0 612.5,446.9 C605.7,446.8 599.0,446.5 592.2,446.9 C585.4,447.2 578.7,448.1 571.9,449.0 C565.1,449.9 558.4,450.6 551.6,452.4 C544.8,454.1 538.0,456.4 531.2,459.5 C524.5,462.6 517.7,465.9 510.9,470.7 C504.1,475.4 496.0,481.6 490.6,488.0 C485.2,494.4 480.4,505.8 478.4,509.3 Z" fill="#c4c4cc" opacity="0.55" transform="translate(-0.5 4.5)" clip-path="url(#cTopBand)"/><path d="M457.1,505.2 C459.3,501.5 464.7,489.5 470.3,482.9 C475.9,476.3 483.8,470.2 490.6,465.6 C497.4,461.0 504.1,458.4 510.9,455.5 C517.7,452.6 524.5,450.2 531.2,448.4 C538.0,446.6 544.8,445.6 551.6,444.7 C558.4,443.8 565.1,443.3 571.9,442.9 C578.7,442.5 585.4,442.3 592.2,442.3 C599.0,442.3 605.7,442.6 612.5,442.9 C619.3,443.2 626.0,443.6 632.8,444.3 C639.6,445.0 646.3,445.9 653.1,446.9 C659.9,447.9 666.6,449.1 673.4,450.4 C680.2,451.7 687.6,453.1 693.8,454.5 C699.9,455.9 703.8,456.7 710.0,458.5 C716.2,460.3 725.2,463.5 731.0,465.5 C736.8,467.5 739.8,468.4 745.0,470.3 C750.2,472.2 757.0,474.2 762.5,476.9 C768.0,479.6 772.8,482.9 778.0,486.2 C783.2,489.6 788.5,492.8 793.8,497.2 C799.0,501.6 804.2,507.3 809.4,512.8 C814.6,518.3 820.3,524.5 825.0,530.0 C829.7,535.5 835.4,543.0 837.5,545.6 L850.5,553.0 L831.0,571.0 L806.0,544.5 L815.6,545.6 C814.6,544.0 813.0,540.9 809.4,536.2 C805.8,531.6 799.0,523.5 793.8,517.5 C788.5,511.5 783.2,505.2 778.0,500.3 C772.8,495.4 770.3,492.5 762.5,487.8 C754.7,483.1 740.0,476.4 731.2,472.2 C722.5,468.0 716.2,465.0 710.0,462.6 C703.8,460.2 699.9,459.6 693.8,458.1 C687.6,456.6 680.2,455.1 673.4,453.8 C666.6,452.5 659.9,451.4 653.1,450.4 C646.3,449.4 639.6,448.3 632.8,447.8 C626.0,447.2 619.3,447.0 612.5,446.9 C605.7,446.8 599.0,446.5 592.2,446.9 C585.4,447.2 578.7,448.1 571.9,449.0 C565.1,449.9 558.4,450.6 551.6,452.4 C544.8,454.1 538.0,456.4 531.2,459.5 C524.5,462.6 517.7,465.9 510.9,470.7 C504.1,475.4 496.0,481.6 490.6,488.0 C485.2,494.4 480.4,505.8 478.4,509.3 Z" fill="url(#arrT)" stroke="#a3358f" stroke-width="0.9" stroke-linejoin="round" paint-order="stroke"/><path d="M821.8,740.3 C821.4,742.0 820.7,747.2 819.6,750.6 C818.5,754.0 817.7,757.3 815.3,760.9 C812.9,764.5 808.4,769.1 805.0,772.0 C801.6,774.9 799.3,775.6 794.7,778.1 C790.1,780.6 786.1,783.7 777.5,786.7 C768.9,789.7 754.6,793.6 743.1,796.2 C731.6,798.8 720.2,800.6 708.8,802.2 C697.3,803.8 685.9,804.8 674.4,805.6 C662.9,806.5 651.6,807.9 640.0,807.3 C628.4,806.7 615.0,803.6 605.0,801.9 C595.0,800.2 588.3,798.8 580.0,796.9 C571.7,795.0 563.3,792.9 555.0,790.6 C546.7,788.3 538.3,786.0 530.0,783.1 C521.7,780.2 513.3,777.5 505.0,773.1 C496.7,768.7 488.3,762.6 480.0,756.9 C471.7,751.2 460.9,744.0 455.0,738.8 C449.1,733.5 447.2,729.7 444.7,725.6 C442.2,721.5 440.8,715.9 440.0,714.0 L451.6,716.0 L424.6,690.0 L406.0,709.7 L417.5,712.5 C419.1,715.6 422.3,724.8 427.0,731.0 C431.7,737.2 439.3,744.8 445.6,750.0 C451.9,755.2 459.3,758.8 465.0,762.0 C470.7,765.2 473.3,766.1 480.0,769.4 C486.7,772.7 496.7,778.5 505.0,781.9 C513.3,785.3 521.7,787.7 530.0,790.0 C538.3,792.3 546.7,793.7 555.0,795.6 C563.3,797.5 571.7,799.6 580.0,801.2 C588.3,802.9 595.0,804.0 605.0,805.6 C615.0,807.2 628.4,809.8 640.0,810.8 C651.6,811.8 662.9,811.6 674.4,811.6 C685.9,811.6 697.3,811.5 708.8,810.8 C720.2,810.1 731.6,809.0 743.1,807.3 C754.6,805.6 768.9,802.8 777.5,800.5 C786.1,798.2 789.0,796.5 794.7,793.6 C800.4,790.7 805.3,787.6 811.9,783.3 C818.5,779.0 829.4,772.4 834.2,767.8 C839.1,763.2 839.3,760.1 841.0,755.8 C842.7,751.5 843.9,744.3 844.5,742.0 Z" fill="#9a9aa8" opacity="0.45" transform="translate(-1 3.5)" clip-path="url(#cBotBand)"/><path d="M821.8,740.3 C821.4,742.0 820.7,747.2 819.6,750.6 C818.5,754.0 817.7,757.3 815.3,760.9 C812.9,764.5 808.4,769.1 805.0,772.0 C801.6,774.9 799.3,775.6 794.7,778.1 C790.1,780.6 786.1,783.7 777.5,786.7 C768.9,789.7 754.6,793.6 743.1,796.2 C731.6,798.8 720.2,800.6 708.8,802.2 C697.3,803.8 685.9,804.8 674.4,805.6 C662.9,806.5 651.6,807.9 640.0,807.3 C628.4,806.7 615.0,803.6 605.0,801.9 C595.0,800.2 588.3,798.8 580.0,796.9 C571.7,795.0 563.3,792.9 555.0,790.6 C546.7,788.3 538.3,786.0 530.0,783.1 C521.7,780.2 513.3,777.5 505.0,773.1 C496.7,768.7 488.3,762.6 480.0,756.9 C471.7,751.2 460.9,744.0 455.0,738.8 C449.1,733.5 447.2,729.7 444.7,725.6 C442.2,721.5 440.8,715.9 440.0,714.0 L451.6,716.0 L424.6,690.0 L406.0,709.7 L417.5,712.5 C419.1,715.6 422.3,724.8 427.0,731.0 C431.7,737.2 439.3,744.8 445.6,750.0 C451.9,755.2 459.3,758.8 465.0,762.0 C470.7,765.2 473.3,766.1 480.0,769.4 C486.7,772.7 496.7,778.5 505.0,781.9 C513.3,785.3 521.7,787.7 530.0,790.0 C538.3,792.3 546.7,793.7 555.0,795.6 C563.3,797.5 571.7,799.6 580.0,801.2 C588.3,802.9 595.0,804.0 605.0,805.6 C615.0,807.2 628.4,809.8 640.0,810.8 C651.6,811.8 662.9,811.6 674.4,811.6 C685.9,811.6 697.3,811.5 708.8,810.8 C720.2,810.1 731.6,809.0 743.1,807.3 C754.6,805.6 768.9,802.8 777.5,800.5 C786.1,798.2 789.0,796.5 794.7,793.6 C800.4,790.7 805.3,787.6 811.9,783.3 C818.5,779.0 829.4,772.4 834.2,767.8 C839.1,763.2 839.3,760.1 841.0,755.8 C842.7,751.5 843.9,744.3 844.5,742.0 Z" fill="url(#arrB)" stroke="#a3358f" stroke-width="0.9" stroke-linejoin="round" paint-order="stroke"/>
<ellipse cx="660.7" cy="574.5" rx="72.7" ry="69" fill="url(#rimside)" stroke="#2a2a2a" stroke-width="0.8"/><ellipse cx="664.2" cy="572" rx="69" ry="66.2" fill="url(#rimg)"/><ellipse cx="665.6" cy="581" rx="61.4" ry="56" fill="#b9b9bc" stroke="#333" stroke-width="0.7"/><ellipse cx="664.8" cy="578.2" rx="59.6" ry="53" fill="url(#faceg)" stroke="#444" stroke-width="0.6"/><text x="660.3" y="538.6" font-size="12" font-weight="bold" text-anchor="middle" fill="#1e1e22" transform="rotate(6 660.3 534.4)">12</text><text x="682.8" y="539.5" font-size="12" font-weight="bold" text-anchor="middle" fill="#1e1e22" transform="rotate(6 682.8 535.3)">1</text><text x="702.5" y="551.2" font-size="12" font-weight="bold" text-anchor="middle" fill="#1e1e22" transform="rotate(6 702.5 547.0)">2</text><text x="711.0" y="571.9" font-size="12" font-weight="bold" text-anchor="middle" fill="#1e1e22" transform="rotate(6 711.0 567.7)">3</text><text x="706.6" y="592.9" font-size="12" font-weight="bold" text-anchor="middle" fill="#1e1e22" transform="rotate(6 706.6 588.7)">4</text><text x="691.0" y="612.2" font-size="12" font-weight="bold" text-anchor="middle" fill="#1e1e22" transform="rotate(6 691.0 608.0)">5</text><text x="667.0" y="622.9" font-size="12" font-weight="bold" text-anchor="middle" fill="#1e1e22" transform="rotate(6 667.0 618.7)">6</text><text x="643.4" y="622.5" font-size="12" font-weight="bold" text-anchor="middle" fill="#1e1e22" transform="rotate(6 643.4 618.3)">7</text><text x="623.4" y="611.2" font-size="12" font-weight="bold" text-anchor="middle" fill="#1e1e22" transform="rotate(6 623.4 607.0)">8</text><text x="613.8" y="590.7" font-size="12" font-weight="bold" text-anchor="middle" fill="#1e1e22" transform="rotate(6 613.8 586.5)">9</text><text x="618.7" y="568.5" font-size="12" font-weight="bold" text-anchor="middle" fill="#1e1e22" transform="rotate(6 618.7 564.3)">10</text><text x="635.0" y="548.9" font-size="12" font-weight="bold" text-anchor="middle" fill="#1e1e22" transform="rotate(6 635.0 544.7)">11</text><line x1="662.7" y1="577.5" x2="711.8" y2="594" stroke="#222" stroke-width="0.9"/><line x1="662.7" y1="577.5" x2="649" y2="574.3" stroke="#d22b3a" stroke-width="2.2"/><line x1="662.9" y1="578.5" x2="663.1" y2="540" stroke="#26262a" stroke-width="4.4" stroke-linecap="butt"/><line x1="661.5" y1="577.8" x2="697" y2="571.4" stroke="#26262a" stroke-width="5.6" stroke-linecap="round"/><circle cx="662.7" cy="577.8" r="2.4" fill="#26262a"/>
<path d="M299.4,683.1 L291.4,688.0 L283.5,693.0 L277.4,696.0 L274.2,699.2 L272.4,701.7 L269.9,703.4 L269.5,705.3 L270.5,706.7 L272.5,706.9 L274.8,705.0 L277.8,704.0 L281.8,702.0 L286.5,697.0 L293.6,691.0 L300.6,684.9 Z" fill="#000010" opacity="0.24" filter="url(#blur2)"/><path d="M404.1,774.4 L398.1,781.9 L392.4,789.6 L387.6,794.7 L385.7,799.0 L384.8,802.0 L383.0,804.5 L383.2,806.5 L384.8,807.5 L386.6,806.9 L388.2,804.3 L390.7,802.2 L393.8,798.8 L396.6,792.4 L401.4,784.1 L405.9,775.6 Z" fill="#000010" opacity="0.24" filter="url(#blur2)"/><path d="M336.6,818.9 L330.4,826.7 L324.4,834.6 L319.4,839.9 L317.4,844.2 L316.4,847.4 L314.6,850.0 L314.8,852.0 L316.2,853.0 L318.2,852.4 L319.8,849.7 L322.4,847.6 L325.6,844.0 L328.6,837.4 L333.6,828.8 L338.4,820.1 Z" fill="#000010" opacity="0.24" filter="url(#blur2)"/><path d="M519.8,766.9 L513.3,778.6 L506.9,790.4 L501.9,798.7 L499.4,804.7 L498.1,808.8 L496.1,812.6 L495.9,814.9 L497.1,815.5 L498.8,814.0 L500.7,810.1 L503.2,806.5 L506.5,801.0 L510.1,792.0 L515.7,779.8 L521.2,767.5 Z" fill="#000010" opacity="0.25" filter="url(#blur2)"/><path d="M524.8,766.9 L518.3,778.6 L511.9,790.4 L506.9,798.7 L504.4,804.7 L503.1,808.8 L501.1,812.6 L500.9,814.9 L502.1,815.5 L503.8,814.0 L505.7,810.1 L508.2,806.5 L511.5,801.0 L515.1,792.0 L520.7,779.8 L526.2,767.5 Z" fill="#000010" opacity="0.25" filter="url(#blur2)"/><path d="M534.3,766.9 L527.8,778.6 L521.4,790.4 L516.4,798.7 L513.9,804.7 L512.6,808.8 L510.6,812.6 L510.4,814.9 L511.6,815.5 L513.3,814.0 L515.2,810.1 L517.7,806.5 L521.0,801.0 L524.6,792.0 L530.2,779.8 L535.7,767.5 Z" fill="#000010" opacity="0.25" filter="url(#blur2)"/><path d="M539.3,766.9 L532.8,778.6 L526.4,790.4 L521.4,798.7 L518.9,804.7 L517.6,808.8 L515.6,812.6 L515.4,814.9 L516.6,815.5 L518.3,814.0 L520.2,810.1 L522.7,806.5 L526.0,801.0 L529.6,792.0 L535.2,779.8 L540.7,767.5 Z" fill="#000010" opacity="0.25" filter="url(#blur2)"/><path d="M887.3,791.6 L881.1,802.1 L874.9,812.7 L870.1,820.0 L867.7,825.4 L866.5,829.2 L864.6,832.6 L864.4,834.7 L865.6,835.3 L867.3,834.0 L869.0,830.5 L871.5,827.4 L874.7,822.5 L878.1,814.3 L883.4,803.4 L888.7,792.4 Z" fill="#000010" opacity="0.25" filter="url(#blur2)"/><path d="M892.3,791.6 L886.1,802.1 L879.9,812.7 L875.1,820.0 L872.7,825.4 L871.5,829.2 L869.6,832.6 L869.4,834.7 L870.6,835.3 L872.3,834.0 L874.0,830.5 L876.5,827.4 L879.7,822.5 L883.1,814.3 L888.4,803.4 L893.7,792.4 Z" fill="#000010" opacity="0.25" filter="url(#blur2)"/><path d="M901.8,791.6 L895.6,802.1 L889.4,812.7 L884.6,820.0 L882.2,825.4 L881.0,829.2 L879.1,832.6 L878.9,834.7 L880.1,835.3 L881.8,834.0 L883.5,830.5 L886.0,827.4 L889.2,822.5 L892.6,814.3 L897.9,803.4 L903.2,792.4 Z" fill="#000010" opacity="0.25" filter="url(#blur2)"/><path d="M906.8,791.6 L900.6,802.1 L894.4,812.7 L889.6,820.0 L887.2,825.4 L886.0,829.2 L884.1,832.6 L883.9,834.7 L885.1,835.3 L886.8,834.0 L888.5,830.5 L891.0,827.4 L894.2,822.5 L897.6,814.3 L902.9,803.4 L908.2,792.4 Z" fill="#000010" opacity="0.25" filter="url(#blur2)"/><path d="M755.1,718.6 L749.7,727.7 L744.4,737.0 L740.0,743.3 L738.3,748.2 L737.6,751.6 L736.0,754.6 L736.3,756.6 L737.7,757.4 L739.5,756.4 L741.0,753.3 L743.3,750.6 L746.1,746.4 L748.6,739.0 L752.8,729.3 L756.9,719.4 Z" fill="#000010" opacity="0.28" filter="url(#blur2)"/><path d="M891.1,673.5 L887.2,679.2 L883.5,684.9 L880.2,688.7 L879.2,691.9 L878.9,694.2 L877.8,696.1 L878.3,697.6 L879.7,698.4 L881.3,698.0 L882.2,696.0 L884.0,694.5 L886.2,691.9 L887.5,687.1 L890.3,680.8 L892.9,674.5 Z" fill="#000010" opacity="0.28" filter="url(#blur2)"/><path d="M409.2,696.5 L403.0,705.1 L397.0,713.8 L392.1,719.7 L390.1,724.4 L389.0,727.7 L387.2,730.5 L387.3,732.6 L388.7,733.4 L390.6,732.6 L392.2,729.7 L394.7,727.2 L397.9,723.3 L401.0,716.2 L406.0,706.9 L410.8,697.5 Z" fill="#000010" opacity="0.30" filter="url(#blur2)"/><path d="M565.2,503.4 L559.8,509.5 L554.6,515.6 L550.3,519.7 L548.6,523.2 L547.8,525.8 L546.2,527.8 L546.3,529.5 L547.7,530.5 L549.4,530.1 L550.8,528.0 L553.0,526.4 L555.8,523.7 L558.4,518.4 L562.7,511.5 L566.8,504.6 Z" fill="#000010" opacity="0.26" filter="url(#blur2)"/><path d="M685.2,472.5 L681.3,477.0 L677.6,481.7 L674.3,484.7 L673.3,487.5 L673.0,489.6 L671.9,491.1 L672.3,492.6 L673.7,493.4 L675.2,493.3 L676.1,491.6 L677.9,490.5 L680.0,488.5 L681.4,484.3 L684.2,479.0 L686.8,473.5 Z" fill="#000010" opacity="0.26" filter="url(#blur2)"/><path d="M569.4,561.3 L565.5,563.8 L561.6,566.4 L558.5,567.8 L557.2,569.7 L556.6,571.3 L555.4,572.2 L555.5,573.4 L556.5,574.6 L557.7,574.9 L558.8,573.9 L560.4,573.5 L562.5,572.5 L564.4,569.6 L567.5,566.2 L570.6,562.7 Z" fill="#000010" opacity="0.26" filter="url(#blur2)"/><path d="M556.9,652.3 L554.0,653.8 L551.2,655.4 L548.8,656.0 L547.9,657.4 L547.6,658.7 L546.8,659.3 L547.0,660.4 L548.0,661.6 L549.0,662.1 L549.8,661.4 L551.1,661.4 L552.6,660.9 L553.8,658.6 L556.0,656.2 L558.1,653.7 Z" fill="#000010" opacity="0.12" filter="url(#blur2)"/><use href="#walkR" transform="translate(445.0 492.0) scale(0.920 0.920)" fill="#050505"/><use href="#standW" transform="translate(567.5 503.0) scale(0.940 0.940)" fill="#050505"/><use href="#walkR" transform="translate(685.0 472.4) scale(0.976 0.976)" fill="#050505"/><use href="#coatW" transform="translate(569.5 561.0) scale(0.840 0.840)" fill="#050505"/><use href="#walkR" transform="translate(557.5 652.0) scale(0.960 0.960)" fill="#050505"/><use href="#standW" transform="translate(411.0 696.3) scale(0.972 0.972)" fill="#050505"/><use href="#caneM" transform="translate(300.0 683.0) scale(1.104 0.960)" fill="#050505"/><use href="#pair" transform="translate(528.5 766.7) scale(1.000 1.000)" fill="#050505"/><use href="#coatW" transform="translate(405.3 774.4) scale(0.880 0.880)" fill="#050505"/><use href="#coatW" transform="translate(337.5 819.0) scale(0.920 0.920)" fill="#050505"/><use href="#standW" transform="translate(759.0 717.6) scale(0.940 0.940)" fill="#050505"/><use href="#walkR" transform="translate(892.0 673.4) scale(0.960 0.960)" fill="#050505"/><use href="#pair" transform="translate(896.0 791.5) scale(1.000 1.000)" fill="#050505"/>
<g stroke="#8a8a8a" stroke-opacity="0.35" stroke-width="3.2" fill="none" transform="translate(0.8,1.6)"><path d="M266.0,440.5 L362.5,482.5"/></g><g stroke="#5b99d0" stroke-width="3.2" fill="none" stroke-linecap="round" stroke-linejoin="miter"><path d="M266.0,440.5 L361.1,481.9"/><path d="M349.0,483.6 L362.5,482.5 L354.1,471.9"/></g><g stroke="#8a8a8a" stroke-opacity="0.35" stroke-width="3.2" fill="none" transform="translate(0.8,1.6)"><path d="M415.0,322.5 L479.0,372.5"/></g><g stroke="#5b99d0" stroke-width="3.2" fill="none" stroke-linecap="round" stroke-linejoin="miter"><path d="M415.0,322.5 L477.8,371.6"/><path d="M465.7,370.2 L479.0,372.5 L473.5,360.2"/></g><g stroke="#8a8a8a" stroke-opacity="0.35" stroke-width="3.2" fill="none" transform="translate(0.8,1.6)"><path d="M660.8,268.8 L682.0,308.8"/></g><g stroke="#5b99d0" stroke-width="3.2" fill="none" stroke-linecap="round" stroke-linejoin="miter"><path d="M660.8,268.8 L681.3,307.4"/><path d="M670.8,301.2 L682.0,308.8 L682.0,295.3"/></g><g stroke="#8a8a8a" stroke-opacity="0.35" stroke-width="3.2" fill="none" transform="translate(0.8,1.6)"><path d="M882.0,326.0 L823.0,374.2"/></g><g stroke="#5b99d0" stroke-width="3.2" fill="none" stroke-linecap="round" stroke-linejoin="miter"><path d="M882.0,326.0 L824.2,373.3"/><path d="M828.2,361.8 L823.0,374.2 L836.2,371.6"/></g><g stroke="#8a8a8a" stroke-opacity="0.35" stroke-width="3.2" fill="none" transform="translate(0.8,1.6)"><path d="M1013.6,432.8 L920.0,470.4"/></g><g stroke="#5b99d0" stroke-width="3.2" fill="none" stroke-linecap="round" stroke-linejoin="miter"><path d="M1013.6,432.8 L921.4,469.8"/><path d="M928.7,460.1 L920.0,470.4 L933.4,471.8"/></g><circle cx="183.3" cy="411.7" r="86.6" fill="none" stroke="#9a9aa2" stroke-opacity="0.45" stroke-width="5.4"/><circle cx="183.0" cy="409.5" r="86.6" fill="#ffffff" stroke="#b964bb" stroke-width="5.4"/><text transform="translate(181.4 418.4) scale(1.04 1)" font-size="24.5" text-anchor="middle" fill="#404040">Catering</text><circle cx="353.8" cy="251.5" r="86.6" fill="none" stroke="#9a9aa2" stroke-opacity="0.45" stroke-width="5.4"/><circle cx="353.5" cy="249.3" r="86.6" fill="#ffffff" stroke="#b964bb" stroke-width="5.4"/><text transform="translate(353.7 258.5) scale(1.04 1)" font-size="24.5" text-anchor="middle" fill="#404040">Store</text><circle cx="629.3" cy="186.8" r="86.6" fill="none" stroke="#9a9aa2" stroke-opacity="0.45" stroke-width="5.4"/><circle cx="629.0" cy="184.6" r="86.6" fill="#ffffff" stroke="#b964bb" stroke-width="5.4"/><text transform="translate(628.4 153.7) scale(1.04 1)" font-size="24.5" text-anchor="middle" fill="#404040">Meet</text><text transform="translate(628.4 181.9) scale(1.04 1)" font-size="24.5" text-anchor="middle" fill="#404040">the</text><text transform="translate(628.4 212.6) scale(1.04 1)" font-size="24.5" text-anchor="middle" fill="#404040">Expert</text><circle cx="929.7" cy="251.8" r="86.6" fill="none" stroke="#9a9aa2" stroke-opacity="0.45" stroke-width="5.4"/><circle cx="929.4" cy="249.6" r="86.6" fill="#ffffff" stroke="#b964bb" stroke-width="5.4"/><text transform="translate(928.5 247.7) scale(1.04 1)" font-size="24.5" text-anchor="middle" fill="#404040">Medical</text><text transform="translate(928.5 276.5) scale(1.04 1)" font-size="24.5" text-anchor="middle" fill="#404040">Info</text><circle cx="1100.3" cy="411.8" r="86.6" fill="none" stroke="#9a9aa2" stroke-opacity="0.45" stroke-width="5.4"/><circle cx="1100.0" cy="409.6" r="86.6" fill="#ffffff" stroke="#b964bb" stroke-width="5.4"/><text transform="translate(1103.9 407.8) scale(1.04 1)" font-size="24.5" text-anchor="middle" fill="#404040">Development</text><text transform="translate(1103.9 435.8) scale(1.04 1)" font-size="24.5" text-anchor="middle" fill="#404040">Area</text>
</svg>
</body></html>
